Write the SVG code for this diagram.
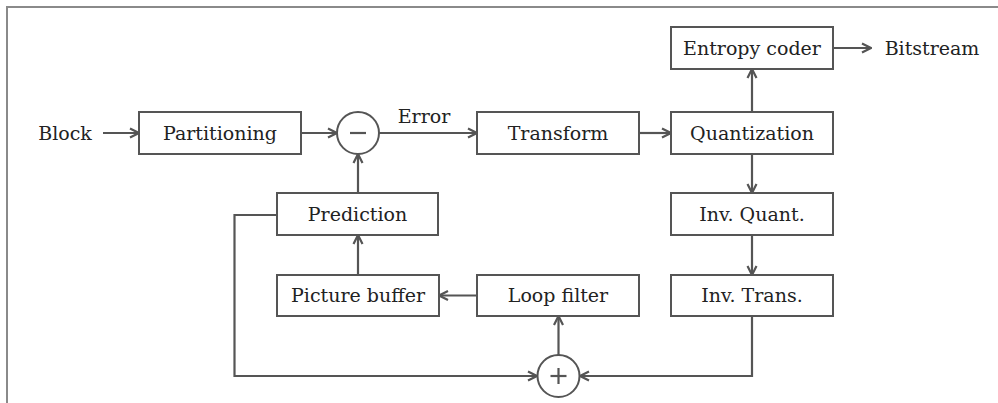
<svg xmlns="http://www.w3.org/2000/svg" width="998" height="403" viewBox="0 0 998 403">
  <style>
    .box { fill: #ffffff; stroke: #555555; stroke-width: 2; }
    .op { fill: #ffffff; stroke: #555555; stroke-width: 2; }
    .sign { stroke: #555555; stroke-width: 2.2; fill: none; }
    .wire { fill: none; stroke: #555555; stroke-width: 2.2; marker-end: url(#head); }
    text { font-family: "DejaVu Serif", "Liberation Serif", serif; font-size: 19px; fill: #222222; text-anchor: middle; }
  </style>
  <defs>
    <marker id="head" viewBox="0 0 12 12" refX="11" refY="6" markerWidth="12" markerHeight="12" markerUnits="userSpaceOnUse" orient="auto">
      <path d="M2,1.5 L11,6 L2,10.5" fill="none" stroke="#555555" stroke-width="2.2"/>
    </marker>
  </defs>

  <rect width="998" height="403" fill="#ffffff"/>
  <!-- frame edges -->
  <path d="M7,403 L7,7 L998,7" fill="none" stroke="#8a8a8a" stroke-width="2"/>

  <!-- connectors -->
  <g id="connectors">
    <line class="wire" x1="103" y1="133" x2="139" y2="133"/>
    <line class="wire" x1="301" y1="133" x2="337" y2="133"/>
    <line class="wire" x1="379" y1="133" x2="477" y2="133"/>
    <line class="wire" x1="639" y1="133" x2="671" y2="133"/>
    <line class="wire" x1="752" y1="112" x2="752" y2="69"/>
    <line class="wire" x1="833" y1="48" x2="871" y2="48"/>
    <line class="wire" x1="752" y1="154" x2="752" y2="193"/>
    <line class="wire" x1="752" y1="235" x2="752" y2="275"/>
    <path class="wire" d="M752,316 L752,376 L580,376"/>
    <line class="wire" x1="558.5" y1="355" x2="558.5" y2="316"/>
    <line class="wire" x1="477" y1="295.5" x2="439" y2="295.5"/>
    <line class="wire" x1="358" y1="275" x2="358" y2="235"/>
    <line class="wire" x1="358" y1="193" x2="358" y2="154"/>
    <path class="wire" d="M277,215 L234.5,215 L234.5,376 L537,376"/>
  </g>

  <g id="block-label"><text x="65" y="140">Block</text></g>

  <g id="partitioning">
    <rect class="box" x="139" y="112" width="162" height="42"/>
    <text x="220" y="140">Partitioning</text>
  </g>

  <g id="subtract">
    <circle class="op" cx="358" cy="133" r="21"/>
    <line class="sign" x1="350" y1="133" x2="366" y2="133"/>
  </g>

  <g id="error-label"><text x="424" y="123">Error</text></g>

  <g id="transform">
    <rect class="box" x="477" y="112" width="162" height="42"/>
    <text x="558" y="140">Transform</text>
  </g>

  <g id="quantization">
    <rect class="box" x="671" y="112" width="162" height="42"/>
    <text x="752" y="140">Quantization</text>
  </g>

  <g id="entropy-coder">
    <rect class="box" x="671" y="27" width="162" height="42"/>
    <text x="752" y="55">Entropy coder</text>
  </g>

  <g id="bitstream-label"><text x="932" y="55">Bitstream</text></g>

  <g id="inv-quant">
    <rect class="box" x="671" y="193" width="162" height="42"/>
    <text x="752" y="221">Inv. Quant.</text>
  </g>

  <g id="inv-trans">
    <rect class="box" x="671" y="275" width="162" height="41"/>
    <text x="752" y="302">Inv. Trans.</text>
  </g>

  <g id="add">
    <circle class="op" cx="558.5" cy="376" r="21"/>
    <line class="sign" x1="550.5" y1="376" x2="566.5" y2="376"/>
    <line class="sign" x1="558.5" y1="368" x2="558.5" y2="384"/>
  </g>

  <g id="loop-filter">
    <rect class="box" x="477" y="275" width="162" height="41"/>
    <text x="558" y="302">Loop filter</text>
  </g>

  <g id="picture-buffer">
    <rect class="box" x="277" y="275" width="162" height="41"/>
    <text x="358" y="302">Picture buffer</text>
  </g>

  <g id="prediction">
    <rect class="box" x="277" y="193" width="161" height="42"/>
    <text x="357.5" y="221">Prediction</text>
  </g>
</svg>
